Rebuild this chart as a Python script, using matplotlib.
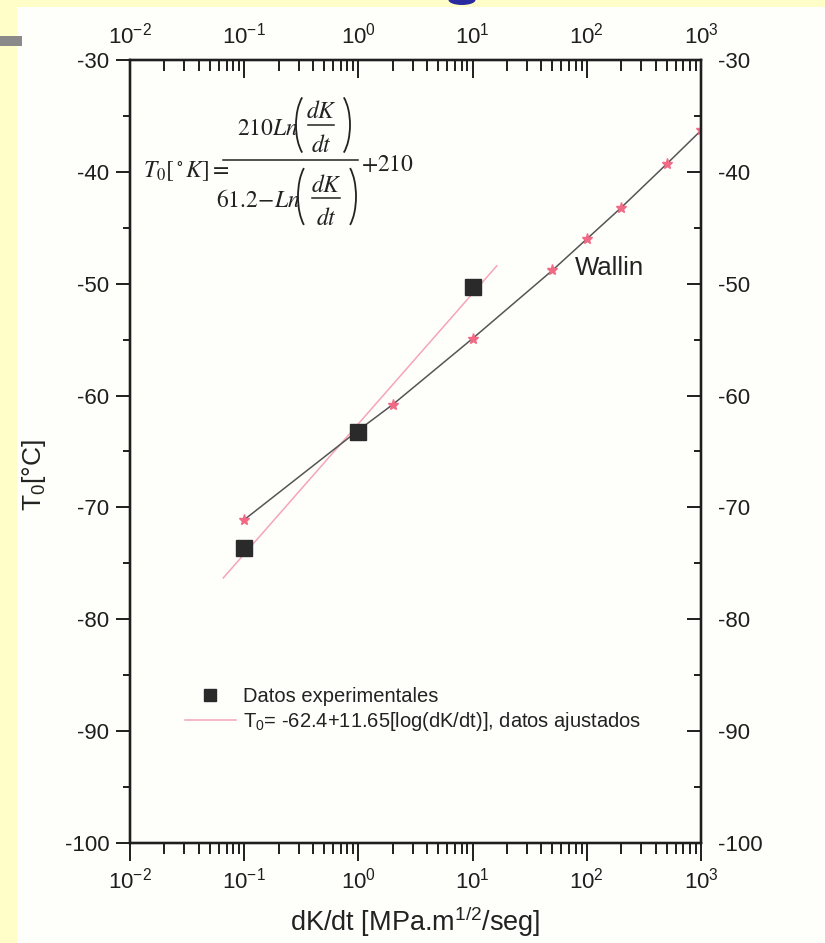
import numpy as np
import matplotlib
matplotlib.use("Agg")
import matplotlib.pyplot as plt
from matplotlib.patches import Rectangle, Ellipse, Arc
from matplotlib.lines import Line2D

plt.rcParams['font.family'] = ['Liberation Sans', 'DejaVu Sans']
plt.rcParams['mathtext.fontset'] = 'custom'
plt.rcParams['mathtext.rm'] = 'Liberation Sans'
plt.rcParams['mathtext.it'] = 'Liberation Sans:italic'
plt.rcParams['axes.unicode_minus'] = False

# datos experimentales
x_exp = [0.1, 1, 10]
y_exp = [-73.6, -63.3, -50.3]

# curva de Wallin
x_wallin = [0.1, 1, 2, 10, 50, 100, 200, 500, 1000]
y_wallin = [-71.1, -63.1, -60.8, -54.9, -48.8, -46.0, -43.2, -39.3, -36.3]

# recta ajustada (extremos)
x_fit = [0.0656, 16.3]
y_fit = [-76.3, -48.4]

xlim = (1e-2, 1e3)
ylim = (-100, -30)
yticks = np.arange(-100, -29, 10)

W, H = 825, 943
fig = plt.figure(figsize=(8.25, 9.43), dpi=100)
fig.patch.set_facecolor('#fffdc8')


def fx(x):
    return x / W


def fy(y):
    return 1 - y / H


# fondo blanco de la diapositiva
fig.patches.append(Rectangle((fx(17), 0), 1, fy(7), transform=fig.transFigure,
                             facecolor='#fefefb', edgecolor='none', zorder=-10))
fig.patches.append(Rectangle((0, fy(46)), fx(22), 10 / H, transform=fig.transFigure,
                             facecolor='#8a8a8a', edgecolor='none', zorder=-5))
fig.patches.append(Ellipse((fx(462), 1.0), fx(27), 10 / H, transform=fig.transFigure,
                           facecolor='#2a2aa0', edgecolor='none', zorder=-5))

ax = fig.add_axes([fx(130), fy(843), fx(571), 783 / H])
ax.set_facecolor('none')

ax.plot(x_fit, y_fit, color='#f4a6b8', lw=1.1, zorder=2)
ax.plot(x_wallin, y_wallin, color='#555555', lw=1.1, zorder=3)
ax.plot(x_wallin, y_wallin, ls='none', marker='*', ms=8, color='#f06a86', mec='#f06a86', zorder=4)
ax.plot(x_exp, y_exp, ls='none', marker='s', ms=11, color='#2a2a2a', zorder=5)

ax.set_xscale('log')
ax.set_xlim(*xlim)
ax.set_ylim(*ylim)
ax.set_yticks(yticks)
ax.set_yticks(np.arange(-95, -30, 10), minor=True)

spine_c = '#1e1e1e'
for s in ax.spines.values():
    s.set_linewidth(1.6)
    s.set_color(spine_c)

ax.tick_params(axis='both', which='both', top=False, right=False, colors=spine_c,
               labelsize=16, width=1.4)
ax.tick_params(axis='x', which='major', direction='out', length=13, pad=5)
ax.tick_params(axis='x', which='minor', direction='out', length=8)
ax.tick_params(axis='y', which='major', direction='out', length=10, pad=5)
ax.tick_params(axis='y', which='minor', direction='out', length=5)

# eje superior
axt = ax.twiny()
axt.set_xscale('log')
axt.set_xlim(*xlim)
axt.tick_params(axis='x', which='both', direction='in', colors=spine_c, labelsize=16, width=1.4)
axt.tick_params(axis='x', which='major', length=13, pad=8)
axt.tick_params(axis='x', which='minor', length=8)

# eje derecho
axr = ax.twinx()
axr.set_ylim(*ylim)
axr.set_yticks(yticks)
axr.set_yticks(np.arange(-95, -30, 10), minor=True)
axr.tick_params(axis='y', which='both', direction='in', colors=spine_c, labelsize=16, width=1.4)
axr.tick_params(axis='y', which='major', length=10, pad=12)
axr.tick_params(axis='y', which='minor', length=5)
for a in (axt, axr):
    for s in a.spines.values():
        s.set_linewidth(1.6)
        s.set_color(spine_c)

ax.set_xlabel(r'dK/dt [MPa.m$^{1/2}$/seg]', fontsize=19.5, color='#222222')
ax.xaxis.set_label_coords(0.5, -0.078)
ax.set_ylabel(r'T$_0$[°C]', fontsize=19, color='#222222')
ax.yaxis.set_label_coords(-0.143, 0.47)

ax.text(79, -48.6, 'Wallin', fontsize=18.5, va='center', ha='left', color='#222222')

# ecuacion de Wallin (compuesta a mano)
fc = '#222222'
fs = 17


def ftext(x, y, s, ha='left'):
    fig.text(fx(x), fy(y), s, fontsize=fs, ha=ha, va='baseline', color=fc,
             math_fontfamily='stix')


def fline(x0, x1, y):
    fig.add_artist(Line2D([fx(x0), fx(x1)], [fy(y), fy(y)], transform=fig.transFigure,
                          color=fc, lw=1.1))


def paren(x, ytop, ybot, side):
    a, b = 15, (ybot - ytop) / 1.88
    if side == 'l':
        cx, t1, t2 = x + a, 110, 250
    else:
        cx, t1, t2 = x - a, -70, 70
    fig.add_artist(Arc((fx(cx), fy((ytop + ybot) / 2)), 2 * a / W, 2 * b / H,
                       theta1=t1, theta2=t2, transform=fig.transFigure, color=fc, lw=1.3))


ftext(143, 177, r'$T_0[^\circ K]=$')
fline(223, 358, 160)
# numerador
ftext(299, 135, r'$210Ln$', ha='right')
paren(296, 93, 157, 'l')
ftext(321, 118, r'$dK$', ha='center')
fline(308, 334, 125)
ftext(321, 152, r'$dt$', ha='center')
paren(350, 93, 157, 'r')
# denominador
ftext(301, 207, r'$61.2\!-\!Ln$', ha='right')
paren(298, 163, 230, 'l')
ftext(326, 192, r'$dK$', ha='center')
fline(312, 340, 198)
ftext(326, 225, r'$dt$', ha='center')
paren(356, 163, 230, 'r')
ftext(361, 171, r'$+210$')

handles = [Line2D([], [], ls='none', marker='s', ms=8, color='#2a2a2a'),
           Line2D([], [], color='#f4a6b8', lw=1.1)]
labels = ['Datos experimentales', r'T$_0$= -62.4+11.65[log(dK/dt)], datos ajustados']
ax.legend(handles, labels, loc='upper left', bbox_to_anchor=(0.065, 0.222),
          frameon=False, fontsize=14.5, handlelength=2.5, handletextpad=0.35,
          labelspacing=0.2, labelcolor='#222222')

fig.savefig('out.png', dpi=100, facecolor=fig.get_facecolor())
